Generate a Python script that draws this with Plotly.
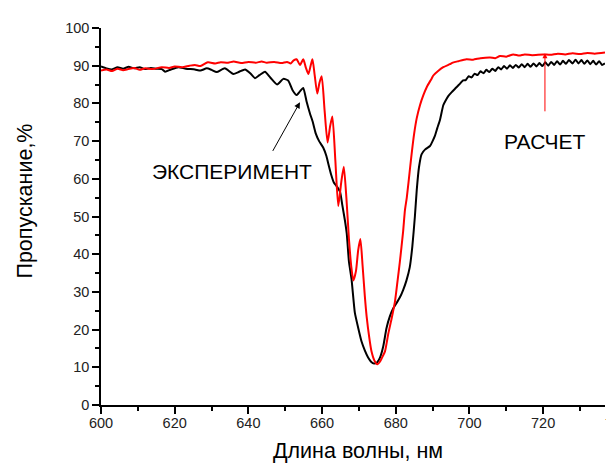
import plotly.graph_objects as go

# Experiment (black)
exp_wavelength = [600, 601.5, 602.9, 604.5, 606, 607.5, 609, 610.5, 611.9, 613.5, 615, 616.5, 617.4, 619, 621, 623,
                  625.5, 627, 628.7, 630, 631.4, 633.6, 635.9, 637.5, 639.1, 640.5, 641.8, 643, 644.5, 646, 647.8,
                  649.5, 650.8, 652, 653.1, 654, 654.9, 655.8, 656.7, 657.5, 658.3, 659.2, 660.3, 661.2, 661.7,
                  662.5, 663.2, 664, 664.9, 665.5, 666.2, 666.7, 667.3, 668.0, 668.9, 669.8, 670.7, 671.6, 672.5,
                  673.3, 674.1, 674.9, 675.7, 676.6, 677.5, 678.4, 679.3, 680.2, 681.1, 682.0, 682.9, 683.8, 684.5,
                  685.2, 685.7, 686.3, 687.0, 688, 689.3, 690.0, 690.6, 691.3, 692.0, 692.9, 693.4, 694.3, 695.2,
                  696.2, 697.2, 698.3,
                  699.0, 699.8, 700.6, 701.4, 702.2, 703.0, 703.8, 704.6, 705.4, 706.2, 707.0, 707.8, 708.6, 709.4,
                  710.2, 711.0, 711.8, 712.6, 713.4, 714.2, 715.0, 715.8, 716.6, 717.4, 718.2, 719.0, 719.8, 720.6,
                  721.4, 722.2, 723.0, 723.8, 724.6, 725.4, 726.2, 727.0, 728.0, 728.8, 729.6, 730.4, 731.2, 732.0,
                  732.8, 733.6, 734.4, 735.2, 736.0, 736.8]
exp_transmission = [89.8, 89.3, 89.0, 89.6, 89.2, 89.7, 89.3, 89.6, 89.1, 89.4, 89.2, 89.1, 88.4, 89.0, 89.6, 89.2,
                    89.0, 88.7, 89.3, 88.9, 88.3, 89.3, 87.8, 88.4, 89.0, 88.0, 86.7, 87.5, 88.4, 86.8, 85.0,
                    86.5, 86.1, 83.5, 82.2, 83.2, 84.1, 80.5, 77.4, 75.0, 72.0, 70.0, 68.3, 66.0, 64.0,
                    61.0, 59.0, 58.0, 56.5, 53.0, 49.0, 45.5, 38.0, 33.4, 24.5, 20.5, 16.9, 14.5, 12.6,
                    11.5, 11.0, 11.3, 12.5, 15.5, 20.4, 23.5, 25.6, 27.0, 28.5, 30.5, 33.0, 36.5, 42.0,
                    50.0, 57.0, 63.0, 66.5, 67.8, 68.7, 70.0, 71.3, 73.5, 75.6, 79.5, 80.5, 82.0, 83.0,
                    84.0, 85.0, 86.1,
                    86.2, 87.2, 86.9, 87.9, 87.5, 88.5, 88.0, 88.9, 88.3, 89.2, 88.6, 89.6, 89.0, 89.9,
                    89.2, 90.1, 89.4, 90.2, 89.5, 90.4, 89.6, 90.5, 89.7, 90.6, 89.8, 90.7, 89.9, 90.9,
                    90.0, 91.0, 90.2, 91.2, 90.3, 91.3, 90.5, 91.5, 90.6, 91.6, 90.6, 91.5, 90.5, 91.4,
                    90.4, 91.3, 90.3, 91.2, 90.2, 90.6]

# Calculation (red)
calc_wavelength = [600, 601.5, 603, 604.5, 606, 607.4, 609, 610.5, 612, 614, 616.5, 618.5, 620, 622, 624, 625.5,
                   627, 629, 631, 632.5, 634.5, 636, 638, 640, 642, 643.6, 645, 647, 649, 650.5, 651.5, 652.3,
                   653.1, 654.0, 654.9, 655.6, 656.3, 656.9, 657.4, 658.0, 658.7, 659.3, 659.9, 660.7, 661.5,
                   662.2, 662.8, 663.6, 664.4, 665.2, 665.9, 666.6, 667.3, 667.9, 668.5, 669.2, 669.8, 670.4,
                   671.0, 671.6, 672.1, 672.8, 673.4, 674.2, 675.0, 675.8, 676.5, 677.1, 678, 678.9, 679.8,
                   680.5, 681.1, 682, 682.5, 683.0, 683.9, 684.3, 685, 685.7, 686.6, 687.5, 688.5, 689.7, 690.2,
                   691.5, 692.9, 694.7, 695.5, 697, 699.2, 701, 703, 705.6, 707, 708.3, 710, 711.9, 713.5, 715,
                   717, 720, 722, 724, 726, 728, 730, 732, 734, 736.8]
calc_transmission = [88.7, 89.0, 88.6, 89.2, 88.8, 89.1, 89.4, 88.9, 89.3, 89.1, 89.6, 89.4, 89.8, 89.6, 90.0, 90.2,
                     89.9, 90.9, 90.6, 90.9, 90.8, 91.1, 90.7, 91.0, 90.8, 91.1, 90.8, 91.0, 90.7, 91.0, 90.6, 91.4,
                     91.7, 90.2, 91.7, 89.5, 87.8, 90.0, 91.7, 87.5, 82.6, 85.5, 87.2, 78.0, 69.6,
                     74.0, 76.5, 65.0, 52.8, 59.0, 63.2, 55.0, 44.0, 37.0, 33.0, 35.5, 41.0, 44.0,
                     37.0, 29.0, 23.5, 18.0, 14.3, 11.8, 10.8, 11.6, 13.0, 14.3, 19.0, 23.0, 27.5,
                     33.0, 37.8, 46.0, 51.7, 55.0, 63.0, 66.5, 72.0, 76.1, 79.6, 82.2, 84.5, 86.5, 87.4,
                     88.6, 89.6, 90.4, 90.8, 91.2, 91.7, 91.6, 92.0, 92.2, 92.0, 92.6, 92.4, 93.0, 92.7, 93.0,
                     92.8, 93.0, 92.9, 93.2, 93.0, 93.3, 93.1, 93.4, 93.2, 93.5]

x_ticks = [600, 620, 640, 660, 680, 700, 720]
y_ticks = [0, 10, 20, 30, 40, 50, 60, 70, 80, 90, 100]

FONT = "Liberation Sans, Arial, sans-serif"

fig = go.Figure()
fig.add_trace(go.Scatter(x=exp_wavelength, y=exp_transmission, mode="lines",
                         line=dict(color="black", width=2, shape="spline", smoothing=0.5),
                         showlegend=False))
fig.add_trace(go.Scatter(x=calc_wavelength, y=calc_transmission, mode="lines",
                         line=dict(color="#ff0000", width=2, shape="spline", smoothing=0.6),
                         showlegend=False))

axis_common = dict(showgrid=False, zeroline=False, showline=True, linecolor="black", linewidth=1.5,
                   ticks="outside", ticklen=7, tickwidth=1.5, tickcolor="black",
                   tickfont=dict(family=FONT, size=14.5, color="#222"), mirror=False)

fig.update_xaxes(range=[600, 736.8], tickvals=x_ticks, ticktext=[str(v) for v in x_ticks],
                 ticklabelstandoff=-3,
                 minor=dict(dtick=10, ticks="outside", ticklen=4, tickwidth=1.5, tickcolor="black"),
                 **axis_common)
fig.update_yaxes(range=[0, 100], tickvals=y_ticks, ticktext=[str(v) for v in y_ticks],
                 minor=dict(dtick=5, ticks="outside", ticklen=4, tickwidth=1.5, tickcolor="black"),
                 **axis_common)

annotations = [
    dict(text="Длина волны, нм", xref="paper", yref="paper", x=0.51, y=-0.122, xanchor="center",
         yanchor="middle", showarrow=False, font=dict(family=FONT, size=21.5, color="black")),
    dict(text="Пропускание,%", xref="paper", yref="paper", x=-0.151, y=0.542, xanchor="center",
         yanchor="middle", textangle=-90, showarrow=False, font=dict(family=FONT, size=21.5, color="black")),
    dict(text="740", xref="paper", yref="paper", x=1.0238, y=-0.05, xanchor="center", yanchor="middle",
         showarrow=False, font=dict(family=FONT, size=14.5, color="#222")),
    dict(text="ЭКСПЕРИМЕНТ", x=635.5, y=62.0, xref="x", yref="y", showarrow=False,
         font=dict(family=FONT, size=21, color="black")),
    dict(text="РАСЧЕТ", x=720.5, y=70.0, xref="x", yref="y", showarrow=False,
         font=dict(family=FONT, size=21, color="black")),
    dict(text="", x=654.0, y=80.3, ax=646.4, ay=67.0, xref="x", yref="y", axref="x", ayref="y",
         showarrow=True, arrowhead=2, arrowsize=1.2, arrowwidth=1, arrowcolor="black"),
    dict(text="", x=720.5, y=93.3, ax=720.5, ay=77.5, xref="x", yref="y", axref="x", ayref="y",
         showarrow=True, arrowhead=2, arrowsize=1, arrowwidth=1, arrowcolor="#ff0000"),
]

fig.update_layout(width=614, height=466, margin=dict(l=93, r=17, t=14, b=69),
                  paper_bgcolor="white", plot_bgcolor="white", annotations=annotations,
                  font=dict(family=FONT))

fig.write_html("out.html")
